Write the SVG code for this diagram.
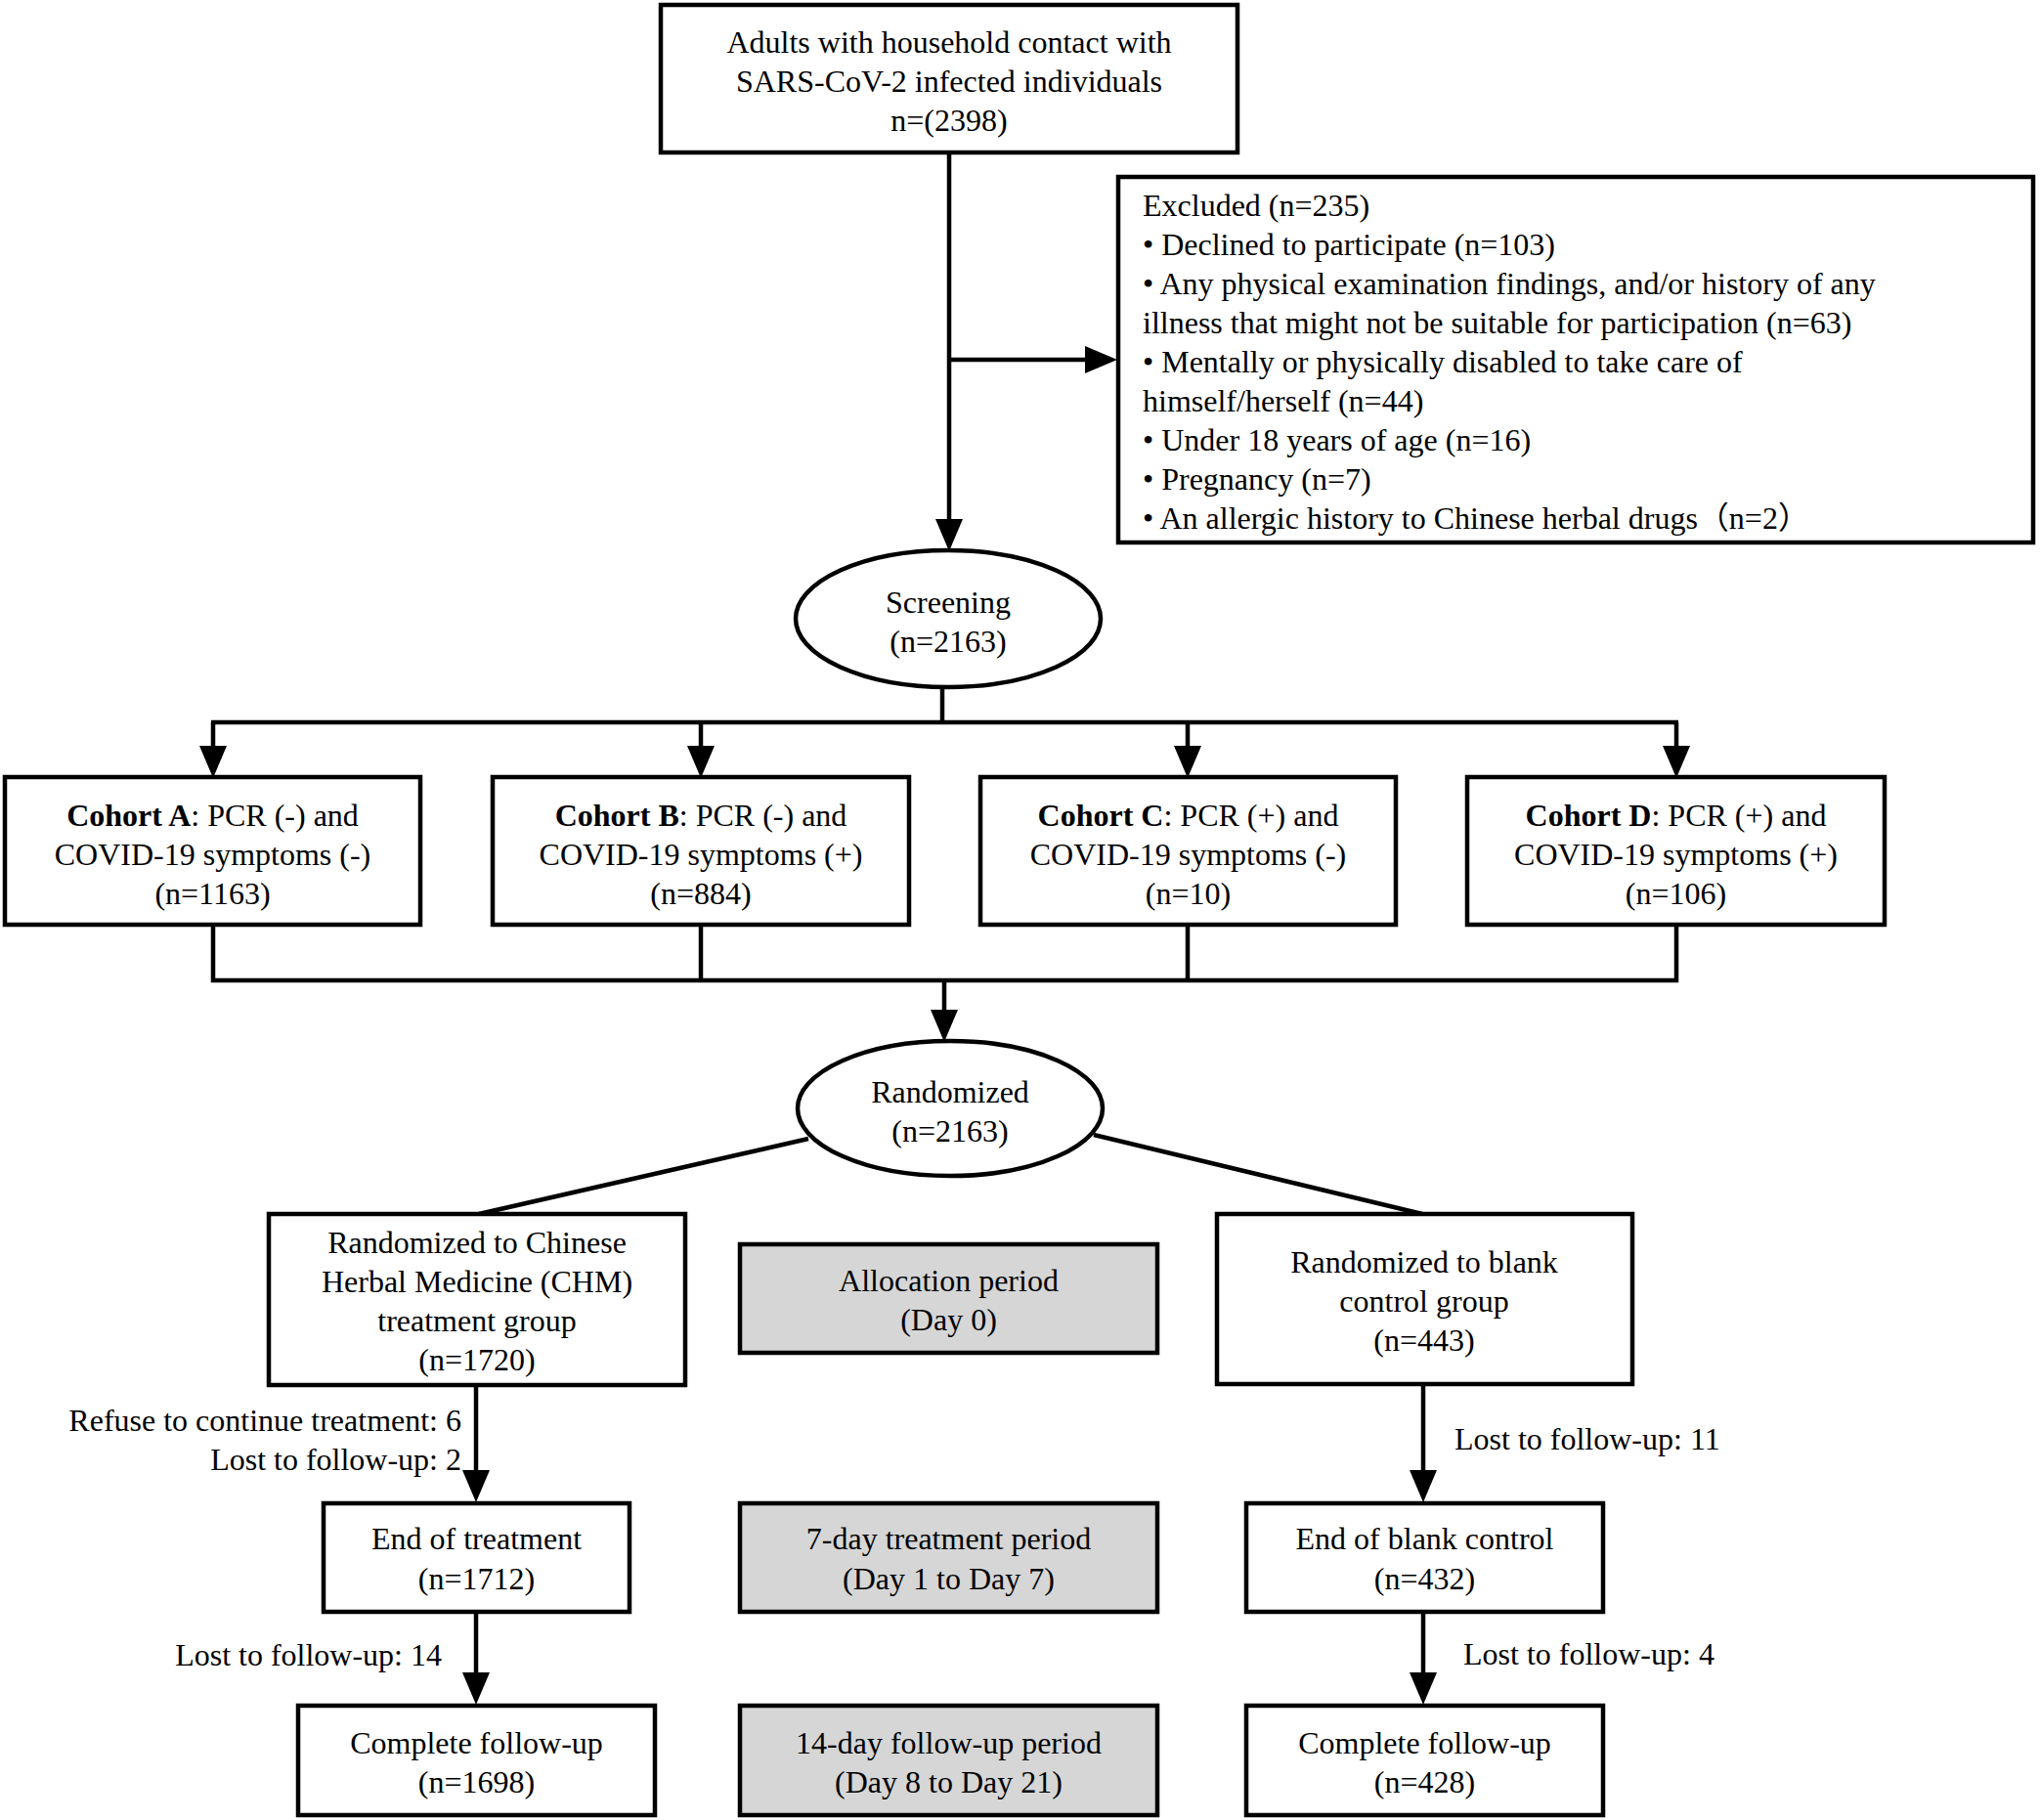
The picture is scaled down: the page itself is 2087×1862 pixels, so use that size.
<svg xmlns="http://www.w3.org/2000/svg" width="2087" height="1862" viewBox="0 0 2087 1862">
<defs>
<style>
text{font-family:"Liberation Serif","Times New Roman","Noto Sans CJK SC",serif;font-size:32px;fill:#000}
.c{text-anchor:middle}
.e{text-anchor:end}
.box{fill:#fff;stroke:#000;stroke-width:4.5}
.grey{fill:#d6d6d6;stroke:#000;stroke-width:4.5}
.ln{fill:none;stroke:#000;stroke-width:4.5}
.b{font-weight:bold}
</style>
<marker id="ah" markerUnits="userSpaceOnUse" markerWidth="34" markerHeight="28" viewBox="0 0 34 28" refX="22" refY="14" orient="auto">
<path d="M0,0 L33,14 L0,28 z" fill="#000"/>
</marker>
</defs>
<rect width="2087" height="1862" fill="#fff"/>
<g id="connectors">
<line class="ln" x1="971" y1="156" x2="971" y2="553" marker-end="url(#ah)"/>
<line class="ln" x1="971" y1="368" x2="1132" y2="368" marker-end="url(#ah)"/>
<polyline class="ln" points="964,703 964,739"/>
<line class="ln" x1="216" y1="739" x2="1717" y2="739"/>
<line class="ln" x1="218" y1="739" x2="218" y2="785" marker-end="url(#ah)"/>
<line class="ln" x1="717" y1="739" x2="717" y2="785" marker-end="url(#ah)"/>
<line class="ln" x1="1215" y1="739" x2="1215" y2="785" marker-end="url(#ah)"/>
<line class="ln" x1="1715" y1="739" x2="1715" y2="785" marker-end="url(#ah)"/>
<polyline class="ln" points="218,946 218,1003 1715,1003 1715,946"/>
<line class="ln" x1="717" y1="946" x2="717" y2="1003"/>
<line class="ln" x1="1215" y1="946" x2="1215" y2="1003"/>
<line class="ln" x1="966" y1="1003" x2="966" y2="1055" marker-end="url(#ah)"/>
<line class="ln" x1="827" y1="1165" x2="490" y2="1242"/>
<line class="ln" x1="1119" y1="1161" x2="1455" y2="1242"/>
<line class="ln" x1="487" y1="1417" x2="487" y2="1526" marker-end="url(#ah)"/>
<line class="ln" x1="487" y1="1649" x2="487" y2="1733" marker-end="url(#ah)"/>
<line class="ln" x1="1456" y1="1416" x2="1456" y2="1526" marker-end="url(#ah)"/>
<line class="ln" x1="1456" y1="1649" x2="1456" y2="1733" marker-end="url(#ah)"/>
</g>
<g id="labels">
<text class="e" x="472" y="1464">Refuse to continue treatment: 6</text>
<text class="e" x="472" y="1504">Lost to follow-up: 2</text>
<text class="e" x="452" y="1704">Lost to follow-up: 14</text>
<text x="1488" y="1483">Lost to follow-up: 11</text>
<text x="1497" y="1703">Lost to follow-up: 4</text>
</g>
<g id="top">
<rect class="box" x="676" y="5" width="590" height="151"/>
<text class="c" x="971" y="54">Adults with household contact with</text>
<text class="c" x="971" y="94">SARS-CoV-2 infected individuals</text>
<text class="c" x="971" y="134">n=(2398)</text>
</g>
<g id="excluded">
<rect class="box" x="1144" y="181" width="936" height="374"/>
<text x="1169" y="221">Excluded (n=235)</text>
<text x="1169" y="261">• Declined to participate (n=103)</text>
<text x="1169" y="301">• Any physical examination findings, and/or history of any</text>
<text x="1169" y="341">illness that might not be suitable for participation (n=63)</text>
<text x="1169" y="381">• Mentally or physically disabled to take care of</text>
<text x="1169" y="421">himself/herself (n=44)</text>
<text x="1169" y="461">• Under 18 years of age (n=16)</text>
<text x="1169" y="501">• Pregnancy (n=7)</text>
<text x="1169" y="541">• An allergic history to Chinese herbal drugs（n=2）</text>
</g>
<g id="screening">
<ellipse class="box" cx="970" cy="633" rx="156" ry="70"/>
<text class="c" x="970" y="627">Screening</text>
<text class="c" x="970" y="667">(n=2163)</text>
</g>
<g id="cohortA">
<rect class="box" x="5" y="795" width="425" height="151"/>
<text class="c" x="217.5" y="845"><tspan class="b">Cohort A</tspan>: PCR (-) and</text>
<text class="c" x="217.5" y="885">COVID-19 symptoms (-)</text>
<text class="c" x="217.5" y="925">(n=1163)</text>
</g>
<g id="cohortB">
<rect class="box" x="504" y="795" width="426" height="151"/>
<text class="c" x="717" y="845"><tspan class="b">Cohort B</tspan>: PCR (-) and</text>
<text class="c" x="717" y="885">COVID-19 symptoms (+)</text>
<text class="c" x="717" y="925">(n=884)</text>
</g>
<g id="cohortC">
<rect class="box" x="1003" y="795" width="425" height="151"/>
<text class="c" x="1215.5" y="845"><tspan class="b">Cohort C</tspan>: PCR (+) and</text>
<text class="c" x="1215.5" y="885">COVID-19 symptoms (-)</text>
<text class="c" x="1215.5" y="925">(n=10)</text>
</g>
<g id="cohortD">
<rect class="box" x="1501" y="795" width="427" height="151"/>
<text class="c" x="1714.5" y="845"><tspan class="b">Cohort D</tspan>: PCR (+) and</text>
<text class="c" x="1714.5" y="885">COVID-19 symptoms (+)</text>
<text class="c" x="1714.5" y="925">(n=106)</text>
</g>
<g id="randomized">
<ellipse class="box" cx="972" cy="1134" rx="156" ry="69"/>
<text class="c" x="972" y="1128">Randomized</text>
<text class="c" x="972" y="1168">(n=2163)</text>
</g>
<g id="chm">
<rect class="box" x="275" y="1242" width="426" height="175"/>
<text class="c" x="488" y="1282">Randomized to Chinese</text>
<text class="c" x="488" y="1322">Herbal Medicine (CHM)</text>
<text class="c" x="488" y="1362">treatment group</text>
<text class="c" x="488" y="1402">(n=1720)</text>
</g>
<g id="blank">
<rect class="box" x="1245" y="1242" width="425" height="174"/>
<text class="c" x="1457" y="1302">Randomized to blank</text>
<text class="c" x="1457" y="1342">control group</text>
<text class="c" x="1457" y="1382">(n=443)</text>
</g>
<g id="allocation">
<rect class="grey" x="757" y="1273" width="427" height="111"/>
<text class="c" x="970.5" y="1321">Allocation period</text>
<text class="c" x="970.5" y="1361">(Day 0)</text>
</g>
<g id="endTreatment">
<rect class="box" x="331" y="1538" width="313" height="111"/>
<text class="c" x="487.5" y="1585">End of treatment</text>
<text class="c" x="487.5" y="1626">(n=1712)</text>
</g>
<g id="treatmentPeriod">
<rect class="grey" x="757" y="1538" width="427" height="111"/>
<text class="c" x="970.5" y="1585">7-day treatment period</text>
<text class="c" x="970.5" y="1626">(Day 1 to Day 7)</text>
</g>
<g id="endBlank">
<rect class="box" x="1275" y="1538" width="365" height="111"/>
<text class="c" x="1457.5" y="1585">End of blank control</text>
<text class="c" x="1457.5" y="1626">(n=432)</text>
</g>
<g id="completeLeft">
<rect class="box" x="305" y="1745" width="365" height="112"/>
<text class="c" x="487.5" y="1794">Complete follow-up</text>
<text class="c" x="487.5" y="1834">(n=1698)</text>
</g>
<g id="followupPeriod">
<rect class="grey" x="757" y="1745" width="427" height="112"/>
<text class="c" x="970.5" y="1794">14-day follow-up period</text>
<text class="c" x="970.5" y="1834">(Day 8 to Day 21)</text>
</g>
<g id="completeRight">
<rect class="box" x="1275" y="1745" width="365" height="112"/>
<text class="c" x="1457.5" y="1794">Complete follow-up</text>
<text class="c" x="1457.5" y="1834">(n=428)</text>
</g>
</svg>
